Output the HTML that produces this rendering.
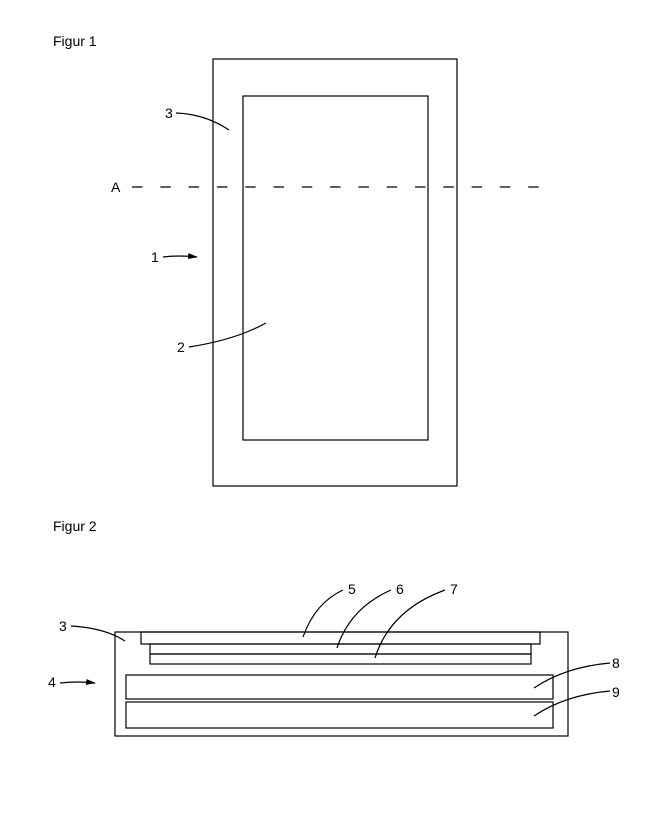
<!DOCTYPE html>
<html><head><meta charset="utf-8"><style>
html,body{margin:0;padding:0;background:#fff;}
svg{display:block;}
text{font-family:"Liberation Sans",Arial,sans-serif;font-size:14px;fill:#000;}
</style></head><body>
<svg width="661" height="815" viewBox="0 0 661 815" xmlns="http://www.w3.org/2000/svg">
<defs><marker id="ar" markerWidth="10" markerHeight="8" refX="9" refY="4" orient="auto" markerUnits="userSpaceOnUse"><path d="M0,1 L10,4 L0,7 Z" fill="#000"/></marker></defs>
<g fill="none" stroke="#000" stroke-width="1.2">
<text x="53" y="46" stroke="none">Figur 1</text>
<rect x="213" y="59" width="244" height="427"/>
<rect x="243" y="96" width="185" height="344"/>
<line x1="132" y1="187" x2="540" y2="187" stroke-dasharray="10.5,17.8"/>
<text x="111" y="192" stroke="none">A</text>
<text x="165" y="118" stroke="none">3</text>
<path d="M176,113 Q205,114 229,130"/>
<text x="151" y="262" stroke="none">1</text>
<path d="M163,257 Q178,255 197,257" marker-end="url(#ar)"/>
<text x="177" y="352" stroke="none">2</text>
<path d="M189,347 Q235,340 266,323"/>

<text x="53" y="531" stroke="none">Figur 2</text>
<rect x="115" y="632" width="453" height="104"/>
<rect x="141" y="632" width="399" height="12"/>
<rect x="150" y="644" width="381" height="10"/>
<rect x="150" y="654" width="381" height="10"/>
<rect x="126" y="675" width="427" height="24"/>
<rect x="126" y="702" width="427" height="26"/>
<text x="59" y="631" stroke="none">3</text>
<path d="M71,626 Q105,628 125,641"/>
<text x="48" y="687" stroke="none">4</text>
<path d="M60,683 Q78,681 95,683" marker-end="url(#ar)"/>
<text x="348" y="594" stroke="none">5</text>
<path d="M343,590 Q315,603 303,637"/>
<text x="396" y="594" stroke="none">6</text>
<path d="M391,590 Q350,608 337,648"/>
<text x="450" y="594" stroke="none">7</text>
<path d="M445,590 Q390,610 375,658"/>
<text x="612" y="668" stroke="none">8</text>
<path d="M610,663 Q565,667 534,688"/>
<text x="612" y="697" stroke="none">9</text>
<path d="M610,691 Q565,695 534,716"/>
</g>
</svg>
</body></html>
